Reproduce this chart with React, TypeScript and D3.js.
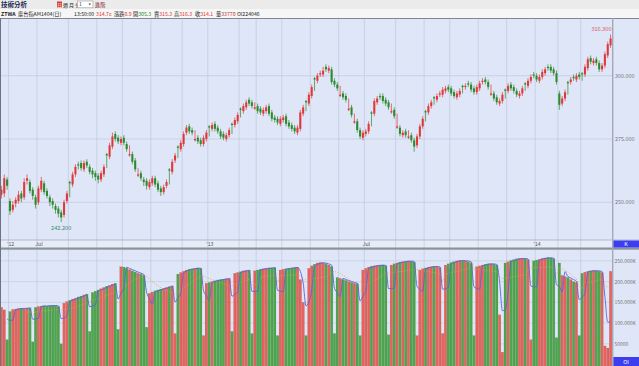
import React from "react";
import * as d3 from "d3";

// MSCI Taiwan futures, one bar per ~2 sessions
const opens = [
  253.0, 253.5, 259.0, 250.5, 247.0, 249.5, 250.5, 253.5, 252.0, 258.5,
  258.0, 255.0, 252.0, 250.0, 255.0, 257.5, 254.5, 252.0, 250.5, 248.5,
  247.5, 246.0, 245.0, 250.5, 258.0, 257.0, 261.0, 265.0, 265.5, 263.0,
  266.0, 264.0, 262.5, 261.5, 260.5, 259.0, 261.0, 269.0, 268.0, 272.0,
  277.0, 275.5, 273.5, 275.5, 273.0, 268.5, 269.0, 266.5, 260.5, 261.5,
  259.0, 258.5, 256.0, 257.5, 259.5, 257.5, 255.5, 254.0, 256.5, 263.0,
  262.0, 266.5, 272.0, 271.0, 273.0, 277.5, 280.0, 278.5, 274.5, 275.5,
  274.5, 273.0, 275.0, 280.0, 279.0, 281.0, 279.5, 278.0, 277.0, 275.0,
  276.5, 281.0, 280.5, 282.0, 287.0, 286.0, 287.5, 290.5, 289.5, 287.0,
  288.0, 287.0, 285.0, 286.0, 288.0, 285.5, 283.5, 283.0, 281.0, 282.5,
  284.0, 281.5, 280.5, 279.5, 277.5, 279.0, 285.0, 290.0, 289.0, 292.0,
  299.0, 298.0, 300.5, 300.5, 303.5, 302.0, 302.5, 298.0, 296.5, 292.0,
  293.0, 292.0, 286.5, 287.5, 281.5, 282.0, 278.5, 275.5, 277.0, 278.0,
  285.5, 285.0, 289.5, 292.0, 292.0, 290.5, 289.5, 285.5, 286.5, 279.5,
  279.5, 276.5, 278.0, 275.5, 276.5, 274.5, 272.5, 276.0, 280.0, 286.0,
  285.5, 288.0, 291.5, 290.5, 292.5, 292.5, 294.0, 295.5, 295.0, 293.5,
  291.5, 292.5, 296.0, 295.5, 297.0, 296.5, 295.0, 293.5, 295.0, 297.5,
  298.5, 297.5, 292.5, 293.0, 291.5, 289.0, 290.0, 294.5, 294.0, 296.5,
  295.5, 294.0, 292.0, 293.0, 297.0, 296.0, 298.0, 300.5, 300.0, 298.0,
  299.5, 301.0, 303.5, 303.5, 302.5, 301.0, 293.0, 289.0, 291.0, 297.5,
  297.5, 299.5, 298.5, 300.5, 301.0, 300.5, 303.0, 307.0, 305.0, 306.5,
  305.0, 302.5, 304.0, 308.0, 312.0,
];
const highs = [
  256.5, 261.0, 260.0, 251.5, 250.5, 252.0, 254.5, 254.5, 259.5, 261.0,
  259.0, 256.0, 253.0, 256.5, 260.0, 258.5, 255.5, 253.0, 251.5, 249.5,
  248.5, 247.0, 251.0, 254.5, 258.5, 262.0, 265.0, 266.0, 266.5, 266.5,
  267.0, 265.0, 263.5, 262.5, 261.5, 262.5, 265.0, 269.5, 273.5, 277.5,
  278.0, 276.5, 276.0, 276.5, 274.0, 272.5, 270.0, 267.5, 263.5, 262.5,
  260.0, 259.5, 259.0, 260.5, 260.5, 258.5, 256.5, 257.0, 259.0, 263.5,
  267.0, 269.5, 272.5, 274.5, 278.0, 280.5, 281.0, 279.5, 278.5, 276.5,
  275.5, 276.5, 278.5, 280.5, 281.5, 282.0, 280.5, 279.0, 278.0, 277.5,
  279.5, 281.5, 283.5, 285.5, 287.5, 289.0, 290.5, 291.5, 290.5, 289.5,
  289.0, 288.0, 287.5, 288.5, 289.0, 286.5, 284.5, 284.0, 284.0, 284.5,
  285.0, 282.5, 281.5, 280.5, 280.5, 286.5, 288.5, 290.5, 293.5, 296.5,
  299.5, 301.0, 302.0, 303.5, 304.5, 304.0, 303.5, 299.0, 297.5, 296.0,
  294.0, 293.0, 291.0, 288.5, 285.0, 283.0, 279.5, 278.5, 279.0, 282.0,
  286.0, 291.0, 292.0, 293.0, 293.0, 291.5, 290.5, 289.0, 287.5, 285.0,
  280.5, 278.5, 279.0, 278.5, 277.5, 275.5, 277.0, 281.0, 284.0, 286.5,
  289.0, 290.5, 292.0, 293.0, 294.0, 295.5, 296.0, 296.5, 296.0, 294.5,
  294.0, 295.0, 296.5, 297.0, 298.0, 297.5, 296.0, 296.5, 298.0, 299.0,
  299.5, 298.5, 296.5, 294.0, 292.5, 291.0, 293.5, 295.0, 297.0, 297.5,
  296.5, 295.0, 294.0, 296.0, 297.5, 299.0, 300.5, 301.5, 301.0, 300.5,
  302.5, 303.5, 304.5, 304.5, 303.5, 302.0, 294.0, 292.0, 294.5, 298.0,
  299.5, 300.5, 301.0, 301.5, 301.5, 304.5, 307.5, 308.0, 307.0, 307.5,
  306.0, 305.0, 309.5, 313.5, 316.3,
];
const lows = [
  251.5, 252.0, 255.0, 245.0, 246.0, 248.0, 249.5, 250.0, 251.0, 257.0,
  253.5, 251.0, 247.5, 249.0, 254.0, 253.0, 251.5, 248.5, 247.5, 245.5,
  244.0, 242.2, 244.0, 249.5, 252.0, 256.0, 260.0, 263.0, 262.5, 262.0,
  263.5, 261.0, 259.5, 258.5, 257.5, 258.0, 260.0, 263.5, 267.0, 271.0,
  274.0, 273.0, 272.5, 272.5, 270.0, 268.0, 265.0, 262.0, 260.0, 258.5,
  256.5, 255.0, 255.0, 256.5, 256.0, 254.0, 252.5, 253.0, 255.5, 257.0,
  261.0, 265.5, 267.5, 270.0, 272.0, 276.5, 277.0, 276.5, 274.0, 273.0,
  272.0, 272.0, 274.0, 276.0, 278.0, 278.0, 277.0, 275.0, 274.5, 274.0,
  275.5, 277.0, 279.5, 281.0, 283.5, 285.0, 286.5, 288.0, 287.0, 286.5,
  285.0, 284.5, 284.0, 285.0, 284.0, 282.0, 281.5, 280.5, 280.0, 281.5,
  280.0, 279.0, 278.0, 277.0, 276.5, 278.0, 284.0, 286.0, 288.0, 291.0,
  294.0, 297.0, 299.5, 299.5, 301.5, 301.0, 296.5, 295.5, 294.0, 291.5,
  290.5, 289.5, 286.0, 283.5, 281.0, 277.5, 275.0, 274.5, 276.0, 277.0,
  280.0, 284.0, 288.5, 290.5, 289.0, 288.0, 286.5, 285.0, 283.0, 279.0,
  276.0, 275.5, 275.5, 275.0, 273.5, 270.0, 271.5, 275.0, 279.0, 282.0,
  284.5, 287.0, 288.5, 289.5, 291.5, 291.5, 293.0, 293.5, 292.0, 291.0,
  290.5, 291.5, 293.0, 294.5, 295.5, 293.5, 292.5, 292.5, 294.0, 296.5,
  296.5, 294.5, 292.0, 290.0, 288.5, 288.0, 289.0, 291.0, 293.0, 294.0,
  293.0, 291.5, 291.0, 292.0, 294.0, 295.0, 297.0, 299.0, 297.5, 297.0,
  298.5, 300.0, 302.0, 301.0, 300.0, 296.5, 286.5, 288.0, 290.0, 292.5,
  296.5, 298.0, 297.5, 298.5, 298.0, 299.5, 302.0, 304.5, 304.0, 304.0,
  301.5, 301.5, 303.0, 307.0, 311.0,
];
const closes = [
  255.0, 259.5, 256.5, 246.5, 249.0, 251.0, 253.0, 251.5, 258.0, 259.5,
  254.5, 252.5, 249.0, 255.5, 258.5, 254.0, 252.5, 250.0, 249.0, 247.0,
  245.5, 244.0, 250.0, 253.5, 257.5, 261.0, 264.0, 264.5, 263.5, 265.5,
  264.5, 262.0, 261.0, 260.0, 259.0, 261.5, 264.0, 268.5, 272.5, 276.0,
  275.0, 274.0, 275.0, 273.5, 271.0, 269.0, 266.0, 263.0, 261.0, 259.5,
  258.0, 256.5, 258.0, 259.5, 257.0, 255.0, 254.0, 256.0, 258.0, 262.5,
  266.0, 268.5, 271.5, 273.5, 277.0, 279.5, 278.0, 277.5, 275.0, 274.0,
  273.0, 275.5, 277.5, 279.5, 280.5, 279.0, 278.0, 276.0, 275.5, 276.5,
  278.5, 280.5, 282.5, 284.5, 286.5, 288.0, 289.5, 289.0, 288.0, 287.5,
  286.0, 285.5, 286.5, 287.5, 285.0, 283.0, 282.5, 281.5, 283.0, 283.5,
  281.0, 280.0, 279.0, 278.0, 279.5, 285.5, 287.5, 289.5, 292.5, 295.5,
  298.5, 300.0, 301.0, 302.0, 302.5, 303.0, 297.5, 296.5, 295.0, 292.5,
  291.5, 290.5, 287.0, 284.5, 282.0, 278.5, 276.0, 277.5, 278.0, 281.0,
  285.0, 290.0, 291.0, 291.5, 290.0, 289.0, 287.5, 286.0, 284.0, 280.0,
  277.0, 277.5, 276.5, 276.0, 274.5, 272.0, 276.0, 280.0, 283.0, 285.5,
  288.0, 289.5, 291.0, 292.0, 293.0, 294.5, 295.0, 294.5, 293.0, 292.0,
  293.0, 294.0, 295.5, 296.0, 296.5, 294.5, 293.5, 295.5, 297.0, 298.0,
  297.5, 295.5, 293.0, 291.0, 289.5, 290.0, 292.5, 294.0, 296.0, 295.0,
  294.0, 292.5, 293.0, 295.0, 296.5, 298.0, 299.5, 300.0, 298.5, 299.5,
  301.5, 302.5, 303.0, 302.0, 301.0, 297.5, 288.5, 291.0, 293.5, 297.0,
  298.5, 299.0, 300.0, 299.5, 300.5, 303.5, 306.5, 305.5, 306.0, 305.0,
  302.5, 304.0, 308.5, 312.5, 314.7,
];
// open interest, thousands of contracts
const openInterest = [
  138, 132, 60, 128, 133, 134, 135, 136, 135, 136,
  137, 55, 138, 140, 141, 142, 141, 142, 143, 142,
  140, 50, 148, 152, 155, 158, 160, 163, 165, 168,
  170, 80, 174, 177, 180, 183, 186, 189, 191, 194,
  196, 85, 236, 235, 232, 229, 226, 223, 220, 218,
  215, 90, 172, 175, 178, 180, 182, 184, 186, 188,
  190, 75, 218, 222, 225, 228, 230, 231, 232, 233,
  232, 70, 196, 198, 200, 202, 204, 205, 206, 207,
  208, 80, 220, 222, 224, 226, 227, 228, 75, 226,
  228, 230, 231, 232, 233, 233, 234, 70, 228, 230,
  231, 232, 233, 234, 235, 205, 150, 70, 232, 238,
  242, 245, 246, 245, 243, 240, 236, 75, 210, 208,
  205, 203, 200, 198, 196, 195, 70, 228, 232, 235,
  237, 238, 239, 240, 240, 238, 72, 240, 243, 245,
  247, 248, 249, 250, 249, 247, 70, 228, 231, 233,
  235, 236, 237, 236, 234, 75, 240, 243, 246, 248,
  250, 251, 251, 250, 248, 245, 70, 236, 238, 240,
  242, 243, 243, 242, 240, 120, 30, 245, 248, 251,
  253, 255, 256, 256, 255, 253, 60, 250, 252, 254,
  256, 257, 258, 257, 255, 65, 245, 215, 212, 210,
  205, 200, 198, 70, 220, 223, 225, 226, 227, 226,
  225, 222, 45, 40, 225,
];

// first bar of each month (Jun '12 .. Mar '14)
const monthStarts = [3, 13, 24, 34, 43, 53, 64, 73, 84, 90, 99, 109, 119, 128, 139, 149, 158, 168, 178, 188, 196, 204];
const axisLabelBars = [3, 13, 73, 128, 188];
const axisLabels = ["'12", "Jul", "'13", "Jul", "'14"];
const priceTicks = [250, 275, 300];
const oiTicks = [50, 100, 150, 200, 250];
const oiTickLabels = ["50000", "100.000K", "150.000K", "200.000K", "250.000K"];

const W = 639;
const H = 366;
const plotRight = 612;
const mainTop = 19;
const mainBottom = 240;

const bg = "#dfe6f8";
const grid = "#bfc8dc";
const upColor = "#e03838";
const downColor = "#2c8a2c";
const font = "'Noto Sans CJK TC', 'DejaVu Sans', sans-serif";

export default function App() {
  const n = closes.length;
  const x = d3.scaleLinear().domain([0, n]).range([0, plotRight]);
  const step = x(1) - x(0);
  const y = d3.scaleLinear().domain([235.1, 322.4]).range([mainBottom, mainTop]);
  const yOI = d3.scaleLinear().domain([0, 275]).range([364.6, 250.5]);

  const rolling = (k: number) =>
    openInterest.map((_, i) => (i < k - 1 ? null : d3.mean(openInterest.slice(i - k + 1, i + 1)) as number));
  const maShort = rolling(3);
  const maLong = rolling(10);
  const maLine = d3
    .line<number | null>()
    .defined((d) => d !== null)
    .x((_, i) => x(i + 0.5))
    .y((d) => yOI(d as number))
    .curve(d3.curveMonotoneX);

  const hiIdx = d3.maxIndex(highs);
  const loIdx = d3.minIndex(lows);

  return (
    <div style={{ position: "absolute", left: 0, top: 0 }}>
      <svg width={W} height={H} style={{ display: "block", fontFamily: font }}>
        {/* header rows */}
        <rect x={0} y={0} width={W} height={9} fill="#ebebeb" />
        <rect x={0} y={9} width={W} height={9} fill="#f6f6f6" />
        <text x={1} y={7} fontSize={6.5} fontWeight="bold" fill="#1c2a52">技術分析</text>
        <rect x={57} y={1.5} width={5} height={6} fill="#d33a3a" />
        <text x={57.3} y={6.6} fontSize={4.6} fill="#fff">日</text>
        <text x={63} y={6.8} fontSize={5} fill="#222">週 月 分</text>
        <rect x={77.5} y={1} width={15.5} height={6.8} fill="#fff" stroke="#9a9a9a" strokeWidth={0.6} />
        <text x={79} y={6.4} fontSize={5} fill="#333">1</text>
        <path d="M88.5,3.6 L91,3.6 L89.75,5.4 Z" fill="#555" />
        <text x={95} y={6.8} fontSize={5.2} fill="#8a1c1c">進階</text>

        <g fontSize={5.2} fill="#222">
          <text x={1} y={15.6} fontWeight="bold">ZTWA</text>
          <text x={18} y={15.6}>摩台指AM1404(日)</text>
          <text x={74} y={15.6}>13:50:00</text>
          <text x={96} y={15.6} fill="#d33">314.7c</text>
          <text x={114} y={15.6}>漲跌<tspan fill="#d33">0.9</tspan></text>
          <text x={133} y={15.6}>開<tspan fill="#2a8a2a">305.3</tspan></text>
          <text x={154} y={15.6}>賣<tspan fill="#d33">315.3</tspan></text>
          <text x={174} y={15.6}>高<tspan fill="#d33">316.3</tspan></text>
          <text x={195} y={15.6}>收<tspan fill="#d33">314.1</tspan></text>
          <text x={216} y={15.6}>量<tspan fill="#b33">33770</tspan></text>
          <text x={237} y={15.6}>OI224046</text>
        </g>

        {/* panes */}
        <rect x={0} y={18} width={W} height={H - 18} fill={bg} />
        <rect x={0} y={mainBottom} width={plotRight} height={8} fill="#e7ecf9" />

        {priceTicks.map((t) => (
          <line key={t} x1={0} x2={plotRight} y1={y(t)} y2={y(t)} stroke={grid} strokeWidth={0.7} />
        ))}
        {oiTicks.map((t) => (
          <line key={t} x1={0} x2={plotRight} y1={yOI(t)} y2={yOI(t)} stroke={grid} strokeWidth={0.6} />
        ))}
        {monthStarts.map((m) => (
          <line key={m} x1={x(m)} x2={x(m)} y1={mainTop} y2={H} stroke={grid} strokeWidth={0.7} />
        ))}

        {/* candles */}
        {closes.map((c, i) => {
          const o = opens[i];
          const col = c >= o ? upColor : downColor;
          const cx = x(i + 0.5);
          const top = y(Math.max(o, c));
          const h = Math.max(0.8, y(Math.min(o, c)) - top);
          return (
            <g key={i}>
              <line x1={cx} x2={cx} y1={y(highs[i])} y2={y(lows[i])} stroke={col} strokeWidth={0.7} />
              <rect x={cx - step * 0.36} y={top} width={step * 0.72} height={h} fill={col} />
            </g>
          );
        })}
        <text x={x(hiIdx + 0.5) + 1} y={y(highs[hiIdx]) - 3} fontSize={5.6} fill="#e05a6a" textAnchor="end">
          {highs[hiIdx].toFixed(3)}
        </text>
        <text x={x(loIdx + 0.5)} y={y(lows[loIdx]) + 8} fontSize={5.6} fill="#3b8a6a" textAnchor="middle">
          {lows[loIdx].toFixed(3)}
        </text>

        {/* open interest */}
        {openInterest.map((v, i) => (
          <rect
            key={i}
            x={x(i) + 0.15}
            y={yOI(v)}
            width={step - 0.3}
            height={yOI(0) - yOI(v) + 2}
            fill={closes[i] >= opens[i] ? "#e6625c" : "#4ca64c"}
            stroke="rgba(60,40,20,0.25)"
            strokeWidth={0.3}
          />
        ))}
        <path d={maLine(maLong) || ""} fill="none" stroke="#e8a040" strokeWidth={0.8} strokeDasharray="1,1.5" />
        <path d={maLine(maShort) || ""} fill="none" stroke="#5b63d6" strokeWidth={0.9} />

        {/* frame */}
        <line x1={0} x2={W} y1={18.5} y2={18.5} stroke="#7f8796" strokeWidth={1} />
        <line x1={0} x2={W} y1={mainBottom} y2={mainBottom} stroke="#a4acbb" strokeWidth={0.8} />
        <rect x={0} y={247.5} width={W} height={2.2} fill="#8c929c" />
        <line x1={0.5} x2={0.5} y1={18} y2={H} stroke="#6d7380" strokeWidth={1} />
        <rect x={plotRight} y={18} width={1.4} height={H - 18} fill="#a2a9b8" />

        {/* axes text */}
        {axisLabels.map((t, k) => (
          <text key={k} x={x(axisLabelBars[k]) + 2} y={246} fontSize={5.2} fill="#555" textAnchor="middle">
            {t}
          </text>
        ))}
        {priceTicks.map((t) => (
          <text key={t} x={615} y={y(t) + 2} fontSize={5.4} fill="#777">
            {t.toFixed(3)}
          </text>
        ))}
        {oiTicks.map((t, k) => (
          <text key={t} x={614.5} y={yOI(t) + 2} fontSize={5} fill="#777">
            {oiTickLabels[k]}
          </text>
        ))}
        <rect x={613.4} y={240.5} width={W - 613.4} height={7} fill="#3d3df0" />
        <text x={626} y={246.3} fontSize={5.4} fill="#fff" textAnchor="middle">K</text>
        <rect x={613.4} y={357} width={W - 613.4} height={9} fill="#3d3df0" />
        <text x={626} y={363.6} fontSize={5.4} fill="#fff" textAnchor="middle">OI</text>
      </svg>
    </div>
  );
}
